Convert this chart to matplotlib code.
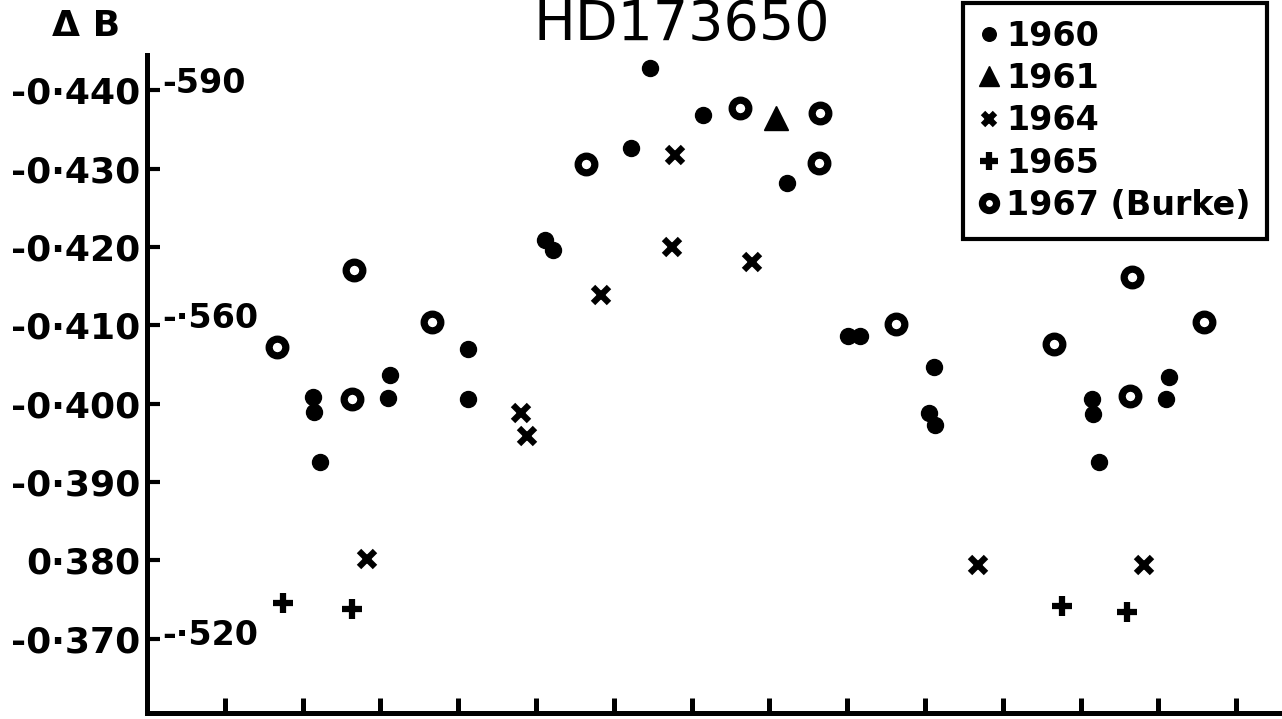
import matplotlib
matplotlib.use("Agg")
import matplotlib.pyplot as plt

# Delta B light curve of HD173650, phase folded, several seasons
phase_1960 = [0.213, 0.215, 0.222, 0.310, 0.312, 0.413, 0.413, 0.512, 0.522, 0.622,
              0.647, 0.714, 0.822, 0.901, 0.917, 1.012, 1.005, 1.013, 1.214, 1.216,
              1.224, 1.310, 1.314]
db_1960 = [-0.4008, -0.3989, -0.3926, -0.4007, -0.4036, -0.4070, -0.4006, -0.4209, -0.4196, -0.4326,
           -0.4429, -0.4369, -0.4281, -0.4086, -0.4086, -0.4047, -0.3988, -0.3973, -0.4006, -0.3987,
           -0.3926, -0.4006, -0.4034]

phase_1961 = [0.809]
db_1961 = [-0.4364]

phase_1964 = [0.283, 0.481, 0.489, 0.584, 0.679, 0.675, 0.778, 1.068, 1.281]
db_1964 = [-0.3801, -0.3988, -0.3959, -0.4139, -0.4317, -0.4200, -0.4181, -0.3794, -0.3794]

phase_1965 = [0.175, 0.264, 1.176, 1.260]
db_1965 = [-0.3746, -0.3738, -0.3742, -0.3734]

phase_1967 = [0.167, 0.266, 0.264, 0.366, 0.564, 0.762, 0.865, 0.864, 0.963, 1.166,
              1.266, 1.263, 1.358]
db_1967 = [-0.4072, -0.4170, -0.4006, -0.4104, -0.4306, -0.4377, -0.4371, -0.4307, -0.4102, -0.4076,
           -0.4161, -0.4010, -0.4104]

ytick_vals = [-0.440, -0.430, -0.420, -0.410, -0.400, -0.390, -0.380, -0.370]
ytick_labels = ["-0·440", "-0·430", "-0·420", "-0·410", "-0·400", "-0·390", "0·380", "-0·370"]
xtick_vals = [0.1, 0.2, 0.3, 0.4, 0.5, 0.6, 0.7, 0.8, 0.9, 1.0, 1.1, 1.2, 1.3, 1.4]

# second scale written beside the axis
scale2_labels = ["-590", "-·560", "-·520"]
scale2_pos = [-0.4409, -0.4109, -0.3704]

fig = plt.figure(figsize=(12.82, 7.19), dpi=100)
ax = fig.add_axes([0.1147, 0.0083, 0.8830, 0.9152])

ax.plot(phase_1960, db_1960, "o", color="black", ms=11.5, mec="black", label="1960", zorder=3)
ax.plot(phase_1961, db_1961, "^", color="black", ms=17, label="1961", zorder=3)
ax.plot(phase_1964, db_1964, "x", color="black", ms=11, mew=4.5, label="1964", zorder=3)
ax.plot(phase_1965, db_1965, "+", color="black", ms=15, mew=4.5, label="1965", zorder=3)
ax.plot(phase_1967, db_1967, "o", mfc="none", mec="black", ms=12, mew=5.2, label="1967 (Burke)", zorder=3)

ax.set_xlim(0, 1.455)
ax.set_ylim(-0.3605, -0.4445)

ax.spines["top"].set_visible(False)
ax.spines["right"].set_visible(False)
ax.spines["left"].set_linewidth(3.6)
ax.spines["bottom"].set_linewidth(3.6)

ax.set_yticks(ytick_vals)
ax.set_yticklabels(ytick_labels, fontsize=26, fontweight="bold")
ax.set_xticks(xtick_vals)
ax.set_xticklabels([])
ax.tick_params(axis="y", direction="in", length=9, width=3, pad=5)
ax.tick_params(axis="x", direction="in", length=11, width=3.6)

for lab, yv in zip(scale2_labels, scale2_pos):
    ax.text(0.02, yv, lab, fontsize=24, fontweight="bold", va="center", ha="left")

fig.text(86 / 1282, 1 - 26 / 719, "Δ B", fontsize=26, fontweight="bold", ha="center", va="center")
fig.text(682 / 1282, 1 - 40 / 719, "HD173650", fontsize=40, ha="center", va="baseline")

leg = ax.legend(loc="upper right", bbox_to_anchor=(1267 / 1282, 1 - 3 / 719),
                bbox_transform=fig.transFigure, borderaxespad=0, fancybox=False,
                edgecolor="black", framealpha=1, markerscale=0.85, handlelength=0.6,
                handletextpad=0.2, labelspacing=0.28, borderpad=0.5,
                prop={"size": 24, "weight": "bold"})
leg.get_frame().set_linewidth(3)

fig.savefig("out.png", dpi=100)
